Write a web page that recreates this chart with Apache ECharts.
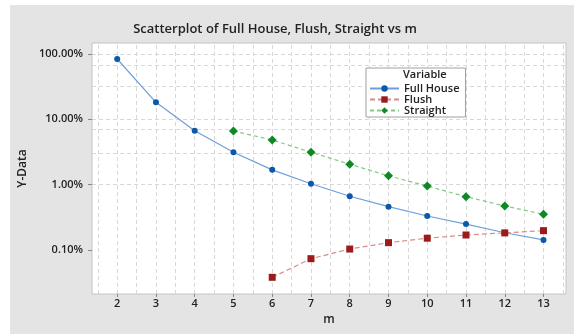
<!DOCTYPE html>
<html>
<head>
<meta charset="utf-8">
<script src="https://cdn.jsdelivr.net/npm/echarts@6/dist/echarts.min.js"></script>
<style>
  html, body { margin: 0; padding: 0; background: #ffffff; }
  #chart { width: 574px; height: 334px; }
</style>
</head>
<body>
<div id="chart"></div>
<script>
// values (fractions, shown as percent)
const mFullHouse = [2, 3, 4, 5, 6, 7, 8, 9, 10, 11, 12, 13];
const fullHouse = [0.838, 0.182, 0.0668, 0.0313, 0.0168, 0.0103, 0.00662, 0.00459, 0.0033, 0.00248, 0.00183, 0.00142];
const mFlush = [6, 7, 8, 9, 10, 11, 12, 13];
const flush = [0.00038, 0.000733, 0.00103, 0.00129, 0.00151, 0.00169, 0.00182, 0.00197];
const mStraight = [5, 6, 7, 8, 9, 10, 11, 12, 13];
const straight = [0.0662, 0.0482, 0.0313, 0.0205, 0.0136, 0.0095, 0.00653, 0.0047, 0.00351];

const xTicks = [2, 3, 4, 5, 6, 7, 8, 9, 10, 11, 12, 13];
const yTicks = [1, 0.1, 0.01, 0.001];
const xGrid = [1.5, 2, 2.5, 3, 3.5, 4, 4.5, 5, 5.5, 6, 6.5, 7, 7.5, 8, 8.5, 9, 9.5, 10, 10.5, 11, 11.5, 12, 12.5, 13, 13.5];
const yGrid = [1, 0.668, 0.324, 0.1, 0.0668, 0.0324, 0.01, 0.00668, 0.00324, 0.001, 0.000668, 0.000324];

const chart = echarts.init(document.getElementById('chart'));
const font = 'Open Sans';

function pairs(xs, ys) {
  return xs.map((x, i) => [x, ys[i]]);
}

const gridLine = { type: [4, 3], color: '#d8d8d8', width: 1 };

const option = {
  animation: false,
  backgroundColor: '#ffffff',
  graphic: [{
    type: 'rect',
    shape: { x: 10, y: 5, width: 564, height: 329 },
    style: { fill: '#e4e4e4' },
    z: -10
  }, {
    type: 'text',
    left: 403,
    top: 69,
    z: 100,
    style: { text: 'Variable', fill: '#222', font: '600 11px "Open Sans"' }
  }],
  title: {
    text: 'Scatterplot of Full House, Flush, Straight vs m',
    left: 270,
    top: 18,
    textAlign: 'center',
    textStyle: { fontFamily: font, fontSize: 13, fontWeight: 600, color: '#222' }
  },
  grid: {
    left: 92,
    right: 8,
    top: 43,
    bottom: 40,
    show: true,
    backgroundColor: '#ffffff',
    borderColor: '#c4c4c4',
    borderWidth: 1
  },
  legend: {
    orient: 'vertical',
    left: 366,
    top: 68,
    z: 50,
    padding: [15, 6, 1, 3],
    itemGap: 0,
    itemWidth: 29,
    itemHeight: 8,
    borderColor: '#a0a0a0',
    borderWidth: 1,
    backgroundColor: '#ffffff',
    textStyle: { fontFamily: font, fontSize: 11, fontWeight: 600, color: '#222', lineHeight: 11 },
    data: ['Full House', 'Flush', 'Straight']
  },
  xAxis: {
    type: 'value',
    min: 1.35,
    max: 13.58,
    name: 'm',
    nameLocation: 'middle',
    nameGap: 16,
    nameTextStyle: { fontFamily: font, fontSize: 12, fontWeight: 600, color: '#222' },
    axisLine: { show: false },
    axisTick: { show: true, length: 3, customValues: xTicks, lineStyle: { color: '#888' } },
    axisLabel: {
      customValues: xTicks,
      margin: 4,
      fontFamily: font, fontSize: 11, fontWeight: 600, color: '#222'
    },
    splitLine: { show: false }
  },
  yAxis: {
    type: 'log',
    logBase: 10,
    min: 0.000211,
    max: 1.473,
    name: 'Y-Data',
    nameLocation: 'middle',
    nameGap: 58,
    nameTextStyle: { fontFamily: font, fontSize: 12, fontWeight: 600, color: '#222' },
    axisLine: { show: false },
    axisTick: { show: true, length: 4, customValues: yTicks, lineStyle: { color: '#888' } },
    axisLabel: {
      customValues: yTicks,
      margin: 9,
      fontFamily: font, fontSize: 11, fontWeight: 600, color: '#222',
      formatter: v => (v * 100).toFixed(2) + '%'
    },
    splitLine: { show: false }
  },
  series: [{
    name: 'grid',
    type: 'line',
    data: [],
    z: 1,
    silent: true,
    markLine: {
      silent: true,
      symbol: 'none',
      label: { show: false },
      lineStyle: gridLine,
      data: xGrid.map(v => ({ xAxis: v })).concat(yGrid.map(v => ({ yAxis: v })))
    }
  }, {
    name: 'Full House',
    type: 'line',
    z: 5,
    data: pairs(mFullHouse, fullHouse),
    symbol: 'circle',
    symbolSize: 6,
    itemStyle: { color: '#0c58ab' },
    lineStyle: { color: '#6f9fd8', width: 1.2, type: 'solid' }
  }, {
    name: 'Flush',
    type: 'line',
    z: 5,
    data: pairs(mFlush, flush),
    symbol: 'rect',
    symbolSize: 7,
    itemStyle: { color: '#9c1a1a' },
    lineStyle: { color: '#d48c8c', width: 1.2, type: [5, 3] }
  }, {
    name: 'Straight',
    type: 'line',
    z: 5,
    data: pairs(mStraight, straight),
    symbol: 'diamond',
    symbolSize: 9,
    itemStyle: { color: '#0c8a24' },
    lineStyle: { color: '#84c884', width: 1.2, type: [4, 3] }
  }]
};

chart.setOption(option);
</script>
</body>
</html>
